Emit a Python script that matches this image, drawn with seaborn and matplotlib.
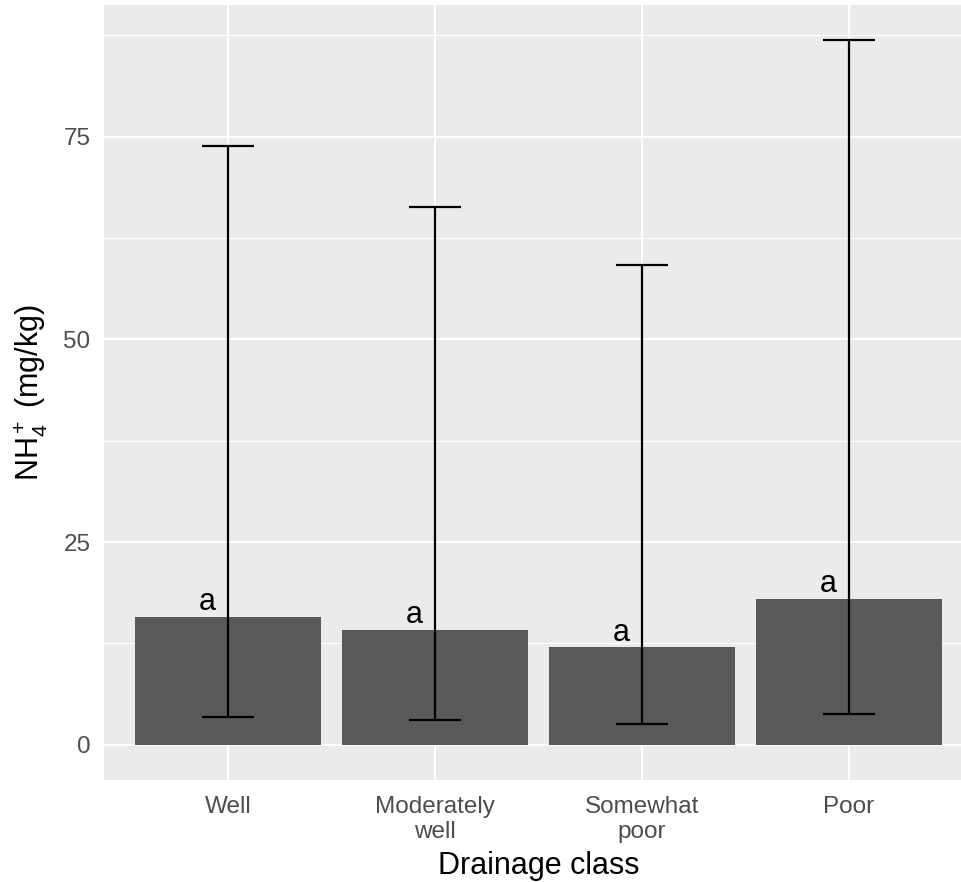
import matplotlib
matplotlib.use("Agg")
import matplotlib.pyplot as plt
import seaborn as sns
import pandas as pd
from matplotlib.ticker import MultipleLocator

# NH4+ by drainage class: mean with lower/upper interval and group letters
classes = ["Well", "Moderately\nwell", "Somewhat\npoor", "Poor"]
nh4_mean = [15.8, 14.2, 12.0, 18.0]
nh4_lower = [3.4, 3.0, 2.5, 3.8]
nh4_upper = [73.8, 66.3, 59.2, 86.9]
letters = ["a", "a", "a", "a"]

df = pd.DataFrame({"cls": classes, "mean": nh4_mean,
                   "lo": nh4_lower, "hi": nh4_upper, "grp": letters})

sns.set_theme(style="darkgrid")
plt.rcParams.update({
    "axes.facecolor": "#EBEBEB",
    "grid.color": "white",
    "axes.edgecolor": "none",
    "mathtext.fontset": "custom",
    "mathtext.rm": "Liberation Sans",
    "mathtext.it": "Liberation Sans:italic",
    "mathtext.bf": "Liberation Sans:bold",
})
plt.rcParams["font.family"] = ["Liberation Sans", "DejaVu Sans"]

W, H = 961, 882
fig = plt.figure(figsize=(W / 100, H / 100), dpi=100)
left, right, top, bottom = 104, 973, 5, 780
ax = fig.add_axes([left / W, 1 - bottom / H, (right - left) / W, (bottom - top) / H])

sns.barplot(data=df, x="cls", y="mean", color="#595959", saturation=1,
            width=0.9, errorbar=None, ax=ax, zorder=2, linewidth=0)

xpos = list(range(len(classes)))
yerr = [[m - l for m, l in zip(df["mean"], df["lo"])],
        [h - m for m, h in zip(df["mean"], df["hi"])]]
ax.errorbar(xpos, df["mean"], yerr=yerr, fmt="none", ecolor="black",
            elinewidth=1.6, capsize=18.7, capthick=1.6, zorder=3)

for x, m, g in zip(xpos, df["mean"], df["grp"]):
    ax.text(x - 0.1, m + 0.85, g, ha="center", va="baseline",
            fontsize=22, color="black", zorder=4)

ax.set_xlim(-0.6, 3.6)
ax.set_ylim(-4.35, 91.25)
ax.yaxis.set_major_locator(MultipleLocator(25))
ax.yaxis.set_minor_locator(MultipleLocator(12.5))
ax.grid(which="major", color="white", linewidth=1.5)
ax.grid(which="minor", axis="y", color="white", linewidth=0.8)
ax.set_axisbelow(True)

ax.tick_params(axis="both", which="major", length=5.8, width=1.4,
               color="#333333", labelcolor="#4D4D4D", labelsize=17.5, pad=4)
ax.tick_params(axis="both", which="minor", length=0)
ax.tick_params(axis="x", which="major", pad=6)
for lbl in ax.get_xticklabels():
    lbl.set_linespacing(1.15)

ax.set_xlabel("Drainage class", fontsize=22, color="black", labelpad=6)
ax.set_ylabel(r"NH$_4^+$ (mg/kg)", fontsize=22, color="black", labelpad=10)

fig.savefig("out.png", dpi=100)
